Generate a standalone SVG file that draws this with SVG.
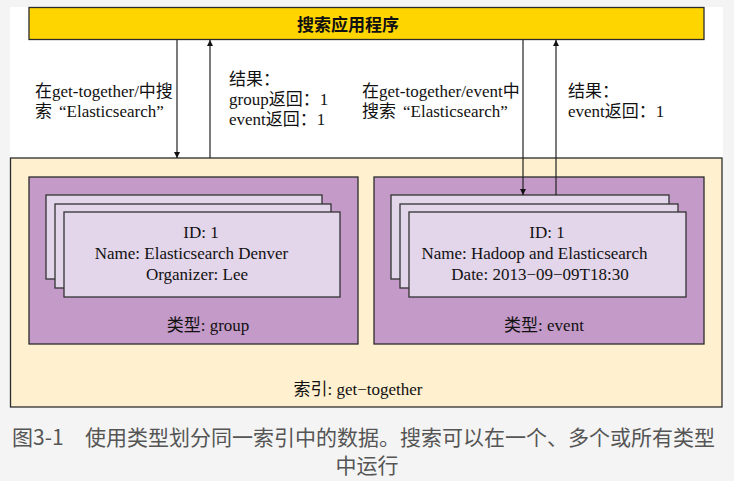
<svg xmlns="http://www.w3.org/2000/svg" width="734" height="481" viewBox="0 0 734 481">
  <style>
    .t { font-family: "Liberation Serif", "Noto Sans CJK SC", serif; font-size: 17px; fill: #111; }
    .cjk { font-family: "Noto Sans CJK SC", sans-serif; }
    .c { text-anchor: middle; }
    .box { stroke: #2b2b2b; stroke-width: 1.3; }
    .card { fill: #e3d5ea; stroke: #333; stroke-width: 1.3; }
    .conn { stroke: #222; stroke-width: 1.2; fill: none; }
    .cap { font-family: "Noto Sans CJK SC", "Liberation Sans", sans-serif; font-size: 21px; fill: #555; }
  </style>
  <defs>
    <marker id="arr" viewBox="0 0 10 10" refX="10" refY="5" markerWidth="8" markerHeight="6" markerUnits="userSpaceOnUse" orient="auto">
      <path d="M0,0 L10,5 L0,10 Z" fill="#111"/>
    </marker>
  </defs>
  <rect x="0" y="0" width="734" height="481" fill="#f4f4f4"/>
  <rect x="10" y="7" width="713" height="401" fill="#ffffff"/>

  <g id="app">
    <rect class="box" x="29" y="7.5" width="675" height="32" fill="#ffd500"/>
    <text class="t cjk" x="297" y="31" font-weight="bold">搜索应用程序</text>
  </g>

  <g id="index">
    <rect class="box" x="10.5" y="158" width="711.5" height="249" fill="#fff0cf"/>
    <text class="t c" x="358" y="395">索引: get−together</text>
  </g>

  <g id="type-group">
    <rect class="box" x="29" y="177" width="329" height="167" fill="#c49ac8"/>
    <rect class="card" x="46" y="195" width="276" height="84"/>
    <rect class="card" x="55" y="204" width="276" height="84"/>
    <rect class="card" x="64" y="212" width="276" height="85"/>
    <text class="t c" x="201" y="238">ID: 1</text>
    <text class="t c" x="191.5" y="259">Name: Elasticsearch Denver</text>
    <text class="t c" x="197" y="280">Organizer: Lee</text>
    <text class="t c" x="208" y="331">类型: group</text>
  </g>

  <g id="type-event">
    <rect class="box" x="374" y="177" width="330" height="167" fill="#c49ac8"/>
    <rect class="card" x="391" y="195" width="278" height="84"/>
    <rect class="card" x="400" y="204" width="278" height="84"/>
    <rect class="card" x="409" y="212" width="277" height="85"/>
    <text class="t c" x="547" y="238">ID: 1</text>
    <text class="t c" x="534.5" y="259">Name: Hadoop and Elasticsearch</text>
    <text class="t c" x="540" y="280">Date: 2013−09−09T18:30</text>
    <text class="t c" x="544" y="331">类型: event</text>
  </g>

  <g id="connectors">
    <line class="conn" x1="177" y1="40" x2="177" y2="158" marker-end="url(#arr)"/>
    <line class="conn" x1="210" y1="158" x2="210" y2="40" marker-end="url(#arr)"/>
    <line class="conn" x1="523" y1="40" x2="523" y2="195" marker-end="url(#arr)"/>
    <line class="conn" x1="556" y1="195" x2="556" y2="40" marker-end="url(#arr)"/>
  </g>

  <g id="labels">
    <text class="t" x="35" y="97">在get-together/中搜</text>
    <text class="t" x="35" y="117">索<tspan dx="7">“</tspan>Elasticsearch”</text>
    <text class="t" x="229" y="85">结果：</text>
    <text class="t" x="229" y="105">group返回：1</text>
    <text class="t" x="229" y="125">event返回：1</text>
    <text class="t" x="362" y="97">在get-together/event中</text>
    <text class="t" x="362" y="117">搜索<tspan dx="7">“</tspan>Elasticsearch”</text>
    <text class="t" x="568" y="97">结果：</text>
    <text class="t" x="568" y="117">event返回：1</text>
  </g>

  <g id="caption">
    <text class="cap" x="12" y="445">图3-1</text>
    <text class="cap" x="85" y="445">使用类型划分同一索引中的数据。搜索可以在一个、多个或所有类型</text>
    <text class="cap" x="367" y="473" text-anchor="middle">中运行</text>
  </g>
</svg>
